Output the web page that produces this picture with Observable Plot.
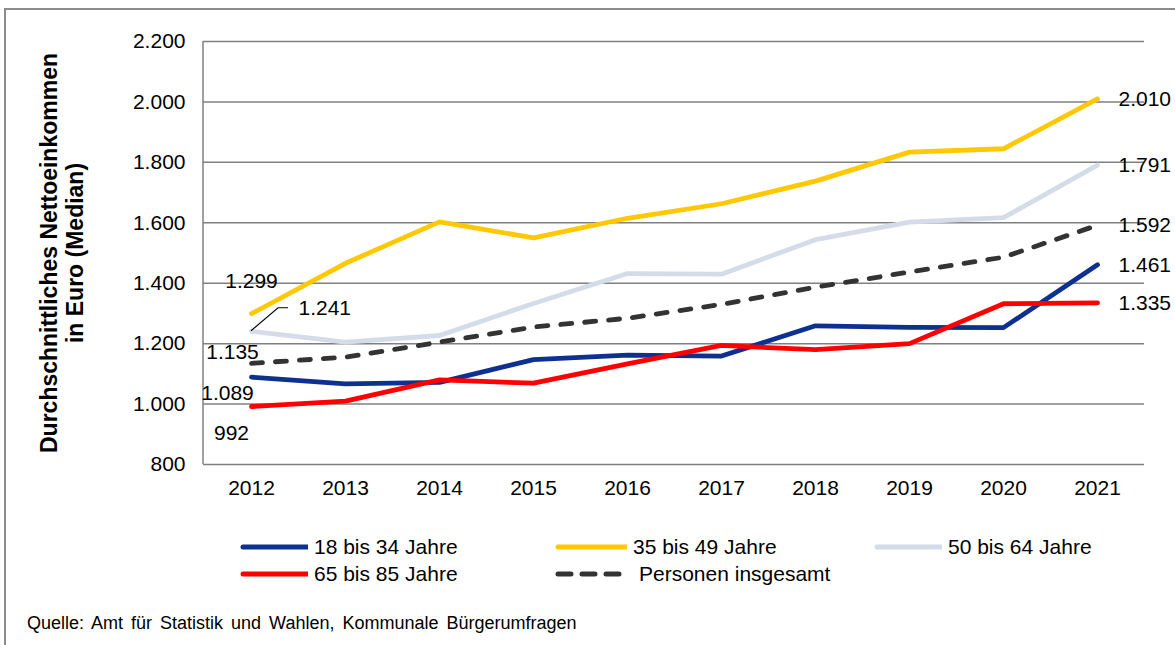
<!DOCTYPE html>
<html>
<head>
<meta charset="utf-8">
<script src="https://cdn.jsdelivr.net/npm/d3@7"></script>
<script src="https://cdn.jsdelivr.net/npm/@observablehq/plot@0.6"></script>
<style>
  html, body { margin: 0; padding: 0; background: #fff; }
  body { width: 1175px; height: 645px; overflow: hidden; position: relative;
         font-family: "Liberation Sans", Arial, sans-serif; color: #000; }
  #frame { position: absolute; left: 4px; top: 8px; width: 1250px; height: 700px;
           border: 2px solid #8c8c8c; box-sizing: border-box; }
  #chart { position: absolute; left: 0; top: 0; }
  .lg { position: absolute; display: flex; align-items: center; font-size: 21px; white-space: nowrap; }
  .lg svg { display: block; margin-right: 6px; }
  #caption { position: absolute; left: 27px; top: 613px; font-size: 18px; white-space: nowrap; word-spacing: 3px; }
</style>
</head>
<body>
<div id="frame"></div>
<div id="chart"></div>
<div id="legend"></div>
<div id="caption">Quelle: Amt für Statistik und Wahlen, Kommunale Bürgerumfragen</div>
<script>
// ---- Data ----
const years = ["2012","2013","2014","2015","2016","2017","2018","2019","2020","2021"];
const seriesNames = ["18 bis 34 Jahre","35 bis 49 Jahre","50 bis 64 Jahre","65 bis 85 Jahre","Personen insgesamt"];
const s18to34 = [1089,1067,1072,1147,1162,1159,1259,1254,1253,1461];
const s35to49 = [1299,1466,1603,1550,1615,1663,1738,1834,1845,2010];
const s50to64 = [1241,1205,1227,1333,1432,1430,1544,1602,1617,1791];
const s65to85 = [992,1010,1080,1069,1133,1194,1180,1200,1332,1335];
const sTotal  = [1135,1155,1205,1255,1284,1330,1387,1437,1486,1592];
const yTicks = [800,1000,1200,1400,1600,1800,2000,2200];
const yTitle = "Durchschnittliches Nettoeinkommen\nin Euro (Median)";
const colors = ["#0e3190","#ffc800","#d4dcea","#ff0000","#333333"];

const allSeries = [s18to34, s35to49, s50to64, s65to85, sTotal];
const rows = [];
allSeries.forEach((vals, i) => vals.forEach((v, j) => rows.push({series: seriesNames[i], year: years[j], value: v})));
const solidRows = rows.filter(d => d.series !== "Personen insgesamt");
const totalRows = rows.filter(d => d.series === "Personen insgesamt");

const fmt = d3.formatLocale({decimal: ",", thousands: ".", grouping: [3], currency: ["", " €"]}).format(",");

const first = (name) => rows.filter(d => d.series === name && d.year === years[0]);
const lastRows = rows.filter(d => d.year === years[years.length - 1]);

const font = "'Liberation Sans', Arial, sans-serif";

function leftAxisLine(index, scales, values, dims) {
  return d3.create("svg:line")
    .attr("x1", dims.marginLeft).attr("x2", dims.marginLeft)
    .attr("y1", dims.marginTop).attr("y2", dims.height - dims.marginBottom)
    .attr("stroke", "#808080").attr("stroke-width", 1.5).node();
}
function leader(index, scales) {
  const x0 = scales.x(years[0]), y0 = scales.y(s50to64[0]);
  return d3.create("svg:path")
    .attr("d", `M${x0},${y0}L${x0 + 27},${y0 - 23}H${x0 + 37}`)
    .attr("fill", "none").attr("stroke", "#000").attr("stroke-width", 1.2).node();
}

const txt = {x: "year", y: "value", text: d => fmt(d.value), fill: "#000", fontSize: 21};

const chart = Plot.plot({
  width: 1175,
  height: 520,
  marginLeft: 203,
  marginRight: 31,
  marginTop: 41,
  marginBottom: 56,
  style: {fontFamily: font, fontSize: "21px", color: "#000", background: "transparent", overflow: "visible"},
  x: {type: "point", domain: years, padding: 0.5, tickSize: 0, tickPadding: 16, label: null},
  y: {domain: [800, 2200], ticks: yTicks, tickFormat: fmt, tickSize: 0, tickPadding: 18, label: null},
  color: {domain: seriesNames, range: colors},
  marks: [
    Plot.ruleY(yTicks, {stroke: "#808080", strokeWidth: 1.5}),
    leftAxisLine,
    Plot.line(solidRows, {x: "year", y: "value", z: "series", stroke: "series", strokeWidth: 4.8, strokeLinejoin: "round", strokeLinecap: "round"}),
    Plot.line(totalRows, {x: "year", y: "value", stroke: "series", strokeWidth: 4.8, strokeDasharray: "11,13", strokeLinecap: "round", strokeLinejoin: "round"}),
    leader,
    Plot.text(first("35 bis 49 Jahre"), {...txt, dx: 0, dy: -32}),
    Plot.text(first("50 bis 64 Jahre"), {...txt, dx: 47, dy: -23, textAnchor: "start"}),
    Plot.text(first("Personen insgesamt"), {...txt, dx: -19, dy: -11}),
    Plot.text(first("18 bis 34 Jahre"), {...txt, dx: -24, dy: 16}),
    Plot.text(first("65 bis 85 Jahre"), {...txt, dx: -20, dy: 27}),
    Plot.text(lastRows, {...txt, dx: 21, dy: 0, textAnchor: "start"}),
    Plot.text([yTitle], {text: d => d, frameAnchor: "left", dx: -142, rotate: -90, textAnchor: "middle", lineAnchor: "middle", fontWeight: "bold", fontSize: 23, lineHeight: 1.13, fill: "#000"})
  ]
});
document.getElementById("chart").appendChild(chart);

// ---- Legend (HTML) ----
const legendPos = [
  {x: 240, y: 547, w: 74}, {x: 555, y: 547, w: 78}, {x: 874, y: 547, w: 74},
  {x: 240, y: 574, w: 74}, {x: 555, y: 574, w: 84}
];
const lg = document.getElementById("legend");
seriesNames.forEach((name, i) => {
  const p = legendPos[i];
  const div = document.createElement("div");
  div.className = "lg";
  div.style.left = p.x + "px";
  div.style.top = (p.y - 13) + "px";
  div.style.height = "26px";
  const dashed = name === "Personen insgesamt";
  const lineLen = dashed ? 68 : 70;
  const sw = d3.create("svg").attr("width", p.w - 6).attr("height", 10);
  sw.append("line").attr("x1", 3).attr("x2", 3 + lineLen).attr("y1", 5).attr("y2", 5)
    .attr("stroke", colors[i]).attr("stroke-width", 5).attr("stroke-linecap", "round")
    .attr("stroke-dasharray", dashed ? "13,11" : null);
  div.appendChild(sw.node());
  const span = document.createElement("span");
  span.textContent = name;
  div.appendChild(span);
  lg.appendChild(div);
});
</script>
</body>
</html>
